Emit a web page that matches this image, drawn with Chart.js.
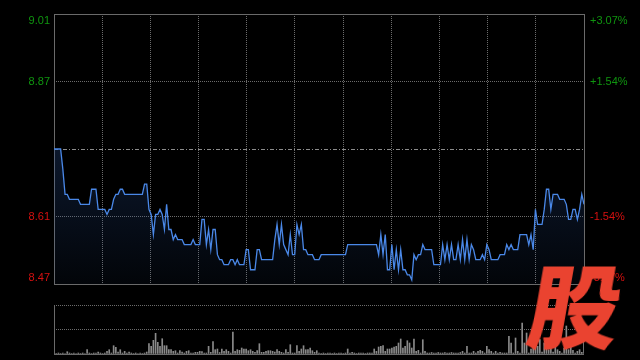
<!DOCTYPE html>
<html>
<head>
<meta charset="utf-8">
<script src="https://cdn.jsdelivr.net/npm/chart.js@4.4.1/dist/chart.umd.min.js"></script>
<style>
html, body { margin: 0; padding: 0; background: #000; }
#wrap { position: relative; width: 640px; height: 360px; overflow: hidden; }
#wrap canvas { position: absolute; left: 0; top: 0; }
#logo {
    position: absolute; left: 531px; top: 256px;
    color: #ea4330; font: 900 91px "Noto Sans CJK SC"; line-height: 1;
    transform: skewX(-10deg);
}
</style>
</head>
<body>
<div id="wrap">
    <canvas id="priceChart" width="640" height="360"></canvas>
    <canvas id="volumeChart" width="640" height="360"></canvas>
    <div id="logo">股</div>
</div>
<script>
// данные: цена по минутам торгового дня (241 точка)
const prevClose = 8.74;
const limitPct = 3.07;
const pctSteps = [3.07, 1.535, 0, -1.535, -3.07];
const leftLabels = ['9.01', '8.87', '', '8.61', '8.47'];
const rightLabels = ['+3.07%', '+1.54%', '', '-1.54%', '-3.07%'];

const prices = [
    8.74, 8.74, 8.74, 8.74, 8.70, 8.65, 8.65, 8.64, 8.64, 8.64,
    8.64, 8.64, 8.63, 8.63, 8.63, 8.63, 8.63, 8.66, 8.66, 8.66,
    8.62, 8.62, 8.62, 8.62, 8.61, 8.62, 8.62, 8.64, 8.65, 8.65,
    8.66, 8.66, 8.65, 8.65, 8.65, 8.65, 8.65, 8.65, 8.65, 8.65,
    8.65, 8.67, 8.67, 8.62, 8.61, 8.57, 8.61, 8.61, 8.62, 8.61,
    8.58, 8.63, 8.58, 8.58, 8.56, 8.57, 8.56, 8.56, 8.56, 8.55,
    8.55, 8.55, 8.55, 8.56, 8.55, 8.55, 8.55, 8.60, 8.60, 8.55,
    8.58, 8.54, 8.58, 8.58, 8.53, 8.52, 8.52, 8.51, 8.51, 8.51,
    8.52, 8.52, 8.51, 8.52, 8.51, 8.51, 8.51, 8.54, 8.54, 8.50,
    8.50, 8.50, 8.54, 8.54, 8.52, 8.52, 8.52, 8.52, 8.52, 8.52,
    8.56, 8.59, 8.55, 8.59, 8.55, 8.54, 8.53, 8.57, 8.53, 8.53,
    8.59, 8.57, 8.59, 8.54, 8.54, 8.53, 8.53, 8.53, 8.52, 8.52,
    8.52, 8.53, 8.53, 8.53, 8.53, 8.53, 8.53, 8.53, 8.53, 8.53,
    8.53, 8.53, 8.53, 8.55, 8.55, 8.55, 8.55, 8.55, 8.55, 8.55,
    8.55, 8.55, 8.55, 8.55, 8.55, 8.55, 8.55, 8.53, 8.57, 8.53,
    8.57, 8.50, 8.50, 8.55, 8.50, 8.54, 8.50, 8.54, 8.50, 8.50,
    8.49, 8.49, 8.48, 8.53, 8.52, 8.53, 8.53, 8.55, 8.54, 8.54,
    8.54, 8.54, 8.51, 8.51, 8.51, 8.51, 8.55, 8.52, 8.55, 8.52,
    8.55, 8.52, 8.52, 8.55, 8.52, 8.56, 8.52, 8.56, 8.52, 8.55,
    8.54, 8.52, 8.52, 8.52, 8.53, 8.52, 8.55, 8.54, 8.52, 8.52,
    8.52, 8.52, 8.53, 8.53, 8.53, 8.55, 8.54, 8.55, 8.54, 8.54,
    8.54, 8.57, 8.57, 8.57, 8.57, 8.55, 8.57, 8.54, 8.62, 8.59,
    8.59, 8.59, 8.62, 8.66, 8.66, 8.62, 8.65, 8.65, 8.65, 8.64,
    8.64, 8.64, 8.63, 8.60, 8.60, 8.62, 8.62, 8.60, 8.62, 8.65,
    8.63
];

// объём по минутам
const volumes = [
    1, 0.5, 1, 0.5, 1, 0.5, 2.3, 1, 0.5, 1,
    0.5, 1, 0.5, 1, 0.5, 4.3, 1, 0.5, 1, 1,
    2, 1, 0.5, 1, 2.7, 4.3, 1, 8.3, 6.7, 2,
    4.3, 1, 2.7, 1, 2, 1, 0.5, 1, 0.5, 1,
    0.5, 1, 2, 10.3, 7.7, 13.7, 20.7, 11.7, 7.7, 15.3,
    8.3, 8.3, 4.3, 4.3, 2.7, 3.3, 1, 3.3, 2, 1,
    2.7, 3.3, 1, 1, 1.7, 1.7, 2.7, 2.3, 1, 1,
    7.7, 1.7, 12.3, 4.3, 5, 1.5, 5, 2.7, 4.3, 2.7,
    1, 22, 2.7, 4.3, 3.7, 6, 5, 5, 3.3, 4.3,
    2.7, 1.7, 3.3, 10.3, 1.7, 1.7, 2.7, 3.3, 3.3, 2.7,
    2, 4.3, 2.7, 1.7, 1, 4.3, 1.7, 9.3, 1, 1,
    8.3, 2.7, 5, 8.3, 4.3, 4.3, 6, 3.3, 1.7, 3.3,
    1, 0.5, 1, 0.5, 1, 1, 0.5, 1, 0.5, 1,
    1, 0.5, 1, 5, 1, 1.7, 1, 0.5, 1, 1,
    1, 0.5, 1, 1, 1, 5, 2.7, 7, 7.7, 8.3,
    2.7, 5, 5, 6, 7, 7.7, 11, 15, 6, 7.7,
    13.3, 11, 6, 15, 2.7, 3.7, 1, 14.3, 2.7, 1,
    1, 1.5, 1, 1, 1.5, 1, 1, 1.5, 1, 1,
    1.5, 1, 1, 1, 1.5, 2.7, 1, 7.7, 1, 1,
    2.7, 1, 2.7, 3.7, 2.7, 1, 7.7, 4.3, 2.7, 1,
    2.7, 1, 1.7, 1, 1, 1, 17.7, 11, 1, 16,
    2.7, 1, 31, 11, 21, 1, 5, 14.3, 14.3, 7.7,
    14.3, 2, 11, 11, 4.3, 6, 2, 7.7, 4.3, 2.7,
    1, 6, 28, 4.3, 7.7, 3.7, 1, 2.7, 4.3, 1.7,
    13.7
];
const volumeMax = 49;

const minutes = prices.map((p, i) => i);
const lastMinute = 240;
const gridCols = 11;

const green = '#0f950f';
const red = '#d61010';
const gridColor = '#6c6c6c';
const frameColor = '#6a6a6a';

//рамка, линия вчерашнего закрытия и подписи
const priceFrame = {
    id: 'priceFrame',
    beforeDatasetsDraw(chart) {
        const { ctx, chartArea: a, scales: { y } } = chart;
        ctx.save();
        const yc = Math.round(y.getPixelForValue(prevClose)) + 0.5;
        ctx.strokeStyle = '#8c8c8c';
        ctx.lineWidth = 1;
        ctx.setLineDash([4, 2, 1, 2]);
        ctx.beginPath();
        ctx.moveTo(a.left, yc);
        ctx.lineTo(a.right, yc);
        ctx.stroke();
        ctx.setLineDash([]);
        ctx.strokeStyle = frameColor;
        ctx.strokeRect(a.left + 0.5, a.top + 0.5, a.right - a.left, a.bottom - a.top);
        ctx.restore();
    },
    afterDraw(chart) {
        const { ctx, chartArea: a, scales: { y } } = chart;
        ctx.save();
        ctx.font = '11px "Liberation Sans", Arial, sans-serif';
        pctSteps.forEach((p, k) => {
            if (!leftLabels[k]) return;
            let py = y.getPixelForValue(prevClose * (1 + p / 100));
            ctx.textBaseline = 'middle';
            if (k === 0) { ctx.textBaseline = 'top'; py += 1; }
            if (k === pctSteps.length - 1) { ctx.textBaseline = 'bottom'; py -= 1; }
            ctx.fillStyle = p > 0 ? green : red;
            ctx.textAlign = 'right';
            ctx.fillText(leftLabels[k], a.left - 4, py);
            ctx.textAlign = 'left';
            ctx.fillText(rightLabels[k], a.right + 6, py);
        });
        ctx.restore();
    }
};

const priceChart = new Chart(document.getElementById('priceChart'), {
    type: 'line',
    data: {
        labels: minutes,
        datasets: [{
            data: prices,
            borderColor: '#4a88e8',
            borderWidth: 1.3,
            pointRadius: 0,
            tension: 0,
            fill: 'start',
            backgroundColor: (context) => {
                const { ctx, chartArea } = context.chart;
                if (!chartArea) return 'rgba(0,0,0,0)';
                const g = ctx.createLinearGradient(0, chartArea.top + 130, 0, chartArea.bottom);
                g.addColorStop(0, 'rgba(40,80,150,0.30)');
                g.addColorStop(1, 'rgba(40,80,150,0.06)');
                return g;
            }
        }]
    },
    options: {
        responsive: false,
        animation: false,
        layout: { padding: { left: 54, top: 14, right: 56, bottom: 76 } },
        scales: {
            x: {
                type: 'linear',
                min: 0,
                max: lastMinute,
                afterBuildTicks: (scale) => {
                    scale.ticks = Array.from({ length: gridCols + 1 }, (_, k) => ({ value: k * lastMinute / gridCols }));
                },
                ticks: { display: false },
                grid: { color: gridColor, drawTicks: false },
                border: { display: false, dash: [1, 1] }
            },
            y: {
                min: prevClose * (1 - limitPct / 100),
                max: prevClose * (1 + limitPct / 100),
                afterBuildTicks: (scale) => {
                    scale.ticks = pctSteps.map(p => ({ value: prevClose * (1 + p / 100) }));
                },
                ticks: { display: false },
                grid: {
                    color: (ctx) => (ctx.index === 2 ? 'rgba(0,0,0,0)' : gridColor),
                    drawTicks: false
                },
                border: { display: false, dash: [1, 1] }
            }
        },
        plugins: {
            legend: { display: false },
            tooltip: { enabled: false }
        }
    },
    plugins: [priceFrame]
});

//объёмы
const volumeFrame = {
    id: 'volumeFrame',
    afterDatasetsDraw(chart) {
        const { ctx, chartArea: a } = chart;
        ctx.save();
        ctx.strokeStyle = frameColor;
        ctx.lineWidth = 1;
        ctx.beginPath();
        ctx.moveTo(a.left + 0.5, a.top);
        ctx.lineTo(a.left + 0.5, a.bottom + 0.5);
        ctx.lineTo(a.right, a.bottom + 0.5);
        ctx.stroke();
        ctx.restore();
    }
};

const volumeChart = new Chart(document.getElementById('volumeChart'), {
    type: 'bar',
    data: {
        labels: minutes,
        datasets: [{
            data: volumes,
            backgroundColor: '#8a8a8a',
            barThickness: 1
        }]
    },
    options: {
        responsive: false,
        animation: false,
        layout: { padding: { left: 54, top: 305, right: 56, bottom: 6 } },
        scales: {
            x: {
                type: 'linear',
                min: 0,
                max: lastMinute,
                offset: false,
                ticks: { display: false },
                grid: { display: false, drawTicks: false },
                border: { display: false }
            },
            y: {
                min: 0,
                max: volumeMax,
                afterBuildTicks: (scale) => {
                    scale.ticks = [0, volumeMax / 2, volumeMax].map(v => ({ value: v }));
                },
                ticks: { display: false },
                grid: { color: gridColor, drawTicks: false },
                border: { display: false, dash: [1, 1] }
            }
        },
        plugins: {
            legend: { display: false },
            tooltip: { enabled: false }
        }
    },
    plugins: [volumeFrame]
});
</script>
</body>
</html>
